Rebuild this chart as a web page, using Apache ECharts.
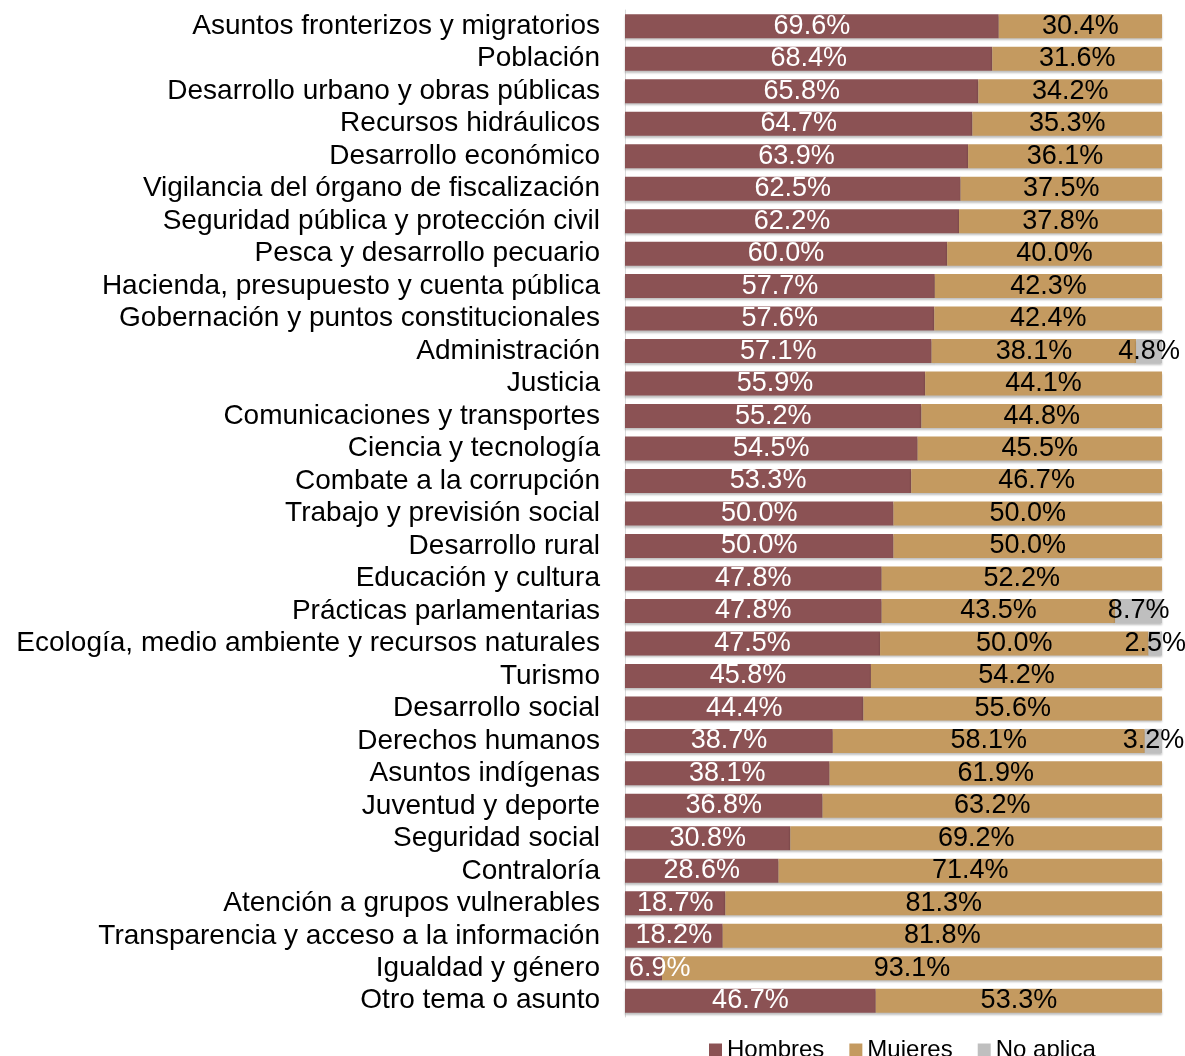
<!DOCTYPE html>
<html>
<head>
<meta charset="utf-8">
<script src="https://cdn.jsdelivr.net/npm/echarts@6/dist/echarts.min.js"></script>
<style>
  html, body { margin: 0; padding: 0; background: #fff; }
  #chart { width: 1185px; height: 1056px; }
</style>
</head>
<body>
<div id="chart"></div>
<script>
const categories = [
  'Asuntos fronterizos y migratorios', 'Población', 'Desarrollo urbano y obras públicas',
  'Recursos hidráulicos', 'Desarrollo económico', 'Vigilancia del órgano de fiscalización',
  'Seguridad pública y protección civil', 'Pesca y desarrollo pecuario',
  'Hacienda, presupuesto y cuenta pública', 'Gobernación y puntos constitucionales',
  'Administración', 'Justicia', 'Comunicaciones y transportes', 'Ciencia y tecnología',
  'Combate a la corrupción', 'Trabajo y previsión social', 'Desarrollo rural',
  'Educación y cultura', 'Prácticas parlamentarias', 'Ecología, medio ambiente y recursos naturales',
  'Turismo', 'Desarrollo social', 'Derechos humanos', 'Asuntos indígenas', 'Juventud y deporte',
  'Seguridad social', 'Contraloría', 'Atención a grupos vulnerables',
  'Transparencia y acceso a la información', 'Igualdad y género', 'Otro tema o asunto'
]
const hombres = [69.6, 68.4, 65.8, 64.7, 63.9, 62.5, 62.2, 60.0, 57.7, 57.6, 57.1, 55.9, 55.2, 54.5, 53.3,
  50.0, 50.0, 47.8, 47.8, 47.5, 45.8, 44.4, 38.7, 38.1, 36.8, 30.8, 28.6, 18.7, 18.2, 6.9, 46.7]
const mujeres = [30.4, 31.6, 34.2, 35.3, 36.1, 37.5, 37.8, 40.0, 42.3, 42.4, 38.1, 44.1, 44.8, 45.5, 46.7,
  50.0, 50.0, 52.2, 43.5, 50.0, 54.2, 55.6, 58.1, 61.9, 63.2, 69.2, 71.4, 81.3, 81.8, 93.1, 53.3]
const noAplica = [0, 0, 0, 0, 0, 0, 0, 0, 0, 0, 4.8, 0, 0, 0, 0,
  0, 0, 0, 8.7, 2.5, 0, 0, 3.2, 0, 0, 0, 0, 0, 0, 0, 0]

const chart = echarts.init(document.getElementById('chart'))
const fontFamily = '"Liberation Sans", Arial, sans-serif'

function makeSeries(name, data, color, labelColor, leftFirst) {
  return {
    name: name,
    type: 'bar',
    stack: 'total',
    barWidth: 24,
    // a very short first segment gets its label pushed to the bar start
    data: data.map(v => (leftFirst && v > 0 && v < 10)
      ? { value: v, label: { position: 'insideLeft', distance: 4 } }
      : v),
    itemStyle: {
      color: color,
      shadowColor: 'rgba(0,0,0,0.25)',
      shadowBlur: 2,
      shadowOffsetY: 2
    },
    label: {
      show: true,
      position: 'inside',
      color: labelColor,
      fontSize: 27,
      fontFamily: fontFamily,
      formatter(p) {
        return p.value > 0 ? p.value.toFixed(1) + '%' : ''
      }
    }
  }
}

chart.setOption({
  backgroundColor: '#fff',
  animation: false,
  grid: {
    left: 625,
    right: 23,
    top: 10,
    bottom: 39
  },
  legend: {
    top: 1033,
    left: 704,
    itemWidth: 13,
    itemHeight: 13,
    itemGap: 25,
    icon: 'rect',
    textStyle: {
      fontSize: 24,
      color: '#000',
      fontFamily: fontFamily
    },
    data: ['Hombres', 'Mujeres', 'No aplica']
  },
  xAxis: {
    type: 'value',
    min: 0,
    max: 100,
    show: false
  },
  yAxis: {
    type: 'category',
    inverse: true,
    data: categories,
    axisLine: {
      show: true,
      lineStyle: { color: '#d9d9d9' }
    },
    axisTick: { show: false },
    axisLabel: {
      color: '#000',
      fontSize: 28,
      fontFamily: fontFamily,
      margin: 25,
      interval: 0
    }
  },
  series: [
    makeSeries('Hombres', hombres, '#8b5254', '#fff', true),
    makeSeries('Mujeres', mujeres, '#c49a60', '#000', false),
    makeSeries('No aplica', noAplica, '#bfbfbf', '#000', false)
  ]
})
</script>
</body>
</html>
